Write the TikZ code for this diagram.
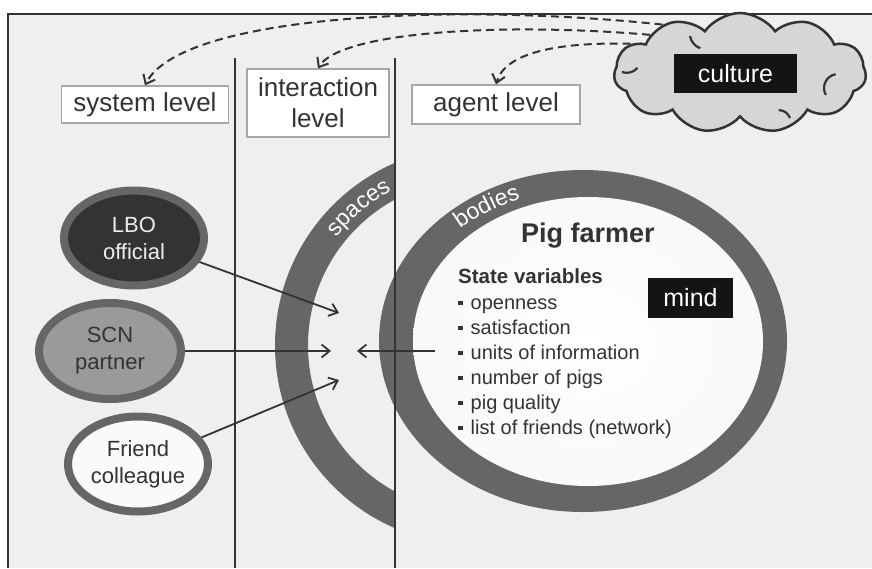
\documentclass[tikz,border=0pt]{standalone}
\usepackage{fontspec}
\setmainfont{Liberation Sans}
\usetikzlibrary{arrows.meta,shapes.geometric,shapes.symbols,decorations.text}
\definecolor{mybg}{RGB}{239,239,239}
\definecolor{myring}{RGB}{102,102,102}
\definecolor{mydark}{RGB}{51,51,51}
\definecolor{mymid}{RGB}{154,154,154}
\definecolor{mycloud}{RGB}{214,214,214}
\pgfdeclareradialshading{farmerglow}{\pgfpoint{0bp}{0bp}}{%
  color(0bp)=(white); color(30bp)=(white!97!black); color(50bp)=(white!90!black)}
\tikzset{
  >={Straight Barb[length=8pt,width=13pt]},
  level/.style={draw=gray!70,line width=1.2,fill=white,inner sep=0,text=mydark,
    font=\fontsize{26}{31}\selectfont,align=center},
  actor/.style={ellipse,draw=myring,line width=8,inner sep=0,minimum width=140,
    minimum height=95,align=center,font=\fontsize{22}{27}\selectfont},
  tag/.style={fill=black!92,text=white,inner sep=0,font=\fontsize{25}{30}\selectfont},
  ringtext/.style={decorate,decoration={text along path,text align=center,text color=white,
    text={|\fontsize{23}{28}\selectfont|#1}}},
  varitem/.style={anchor=base west,inner sep=0,text=mydark,font=\fontsize{20}{25}\selectfont},
  connect/.style={->,line width=1.8,draw=mydark},
  influence/.style={->,line width=2,draw=mydark,dash pattern=on 8pt off 5pt},
  curl/.style={draw=mydark,line width=2.2},
}
\newcommand{\sqbullet}{\rule[4pt]{4.5pt}{4.5pt}\hspace{8pt}}

\begin{document}
\begin{tikzpicture}[x=1pt,y=-1pt]
\useasboundingbox (0,0) rectangle (872,568);
\clip (0,0) rectangle (872,568);
\fill[white] (0,0) rectangle (872,568);
\fill[mybg] (8,14) rectangle (872,568);
\draw[mydark,line width=2] (872,14) -- (8,14) -- (8,568);

% spaces ring, cut off at the agent line
\begin{scope}
  \clip (0,0) rectangle (395,568);
  \fill[myring,even odd rule] (474,345.5) circle[radius=199] (474,345.5) circle[radius=166];
\end{scope}
% bodies ring round the farmer
\fill[myring] (583,341) ellipse[x radius=204,y radius=171];
\shade[shading=farmerglow] (588,341.5) ellipse[x radius=175,y radius=144.5];

% ring labels, set along the middle of each band
\path[ringtext=spaces] (309.6,285.6) arc[start angle=160,end angle=100,radius=175pt];
\path[ringtext=bodies] (421.4,270.1) arc[start angle=152,end angle=92,x radius=183pt,y radius=151pt];

% level separators
\draw[mydark,line width=2] (235,58) -- (235,568);
\draw[mydark,line width=2] (395,58) -- (395,568);

\node[level,minimum width=167,minimum height=37] (syslvl) at (145,104.5) {system level};
\node[level,minimum width=142,minimum height=68] (intlvl) at (318,103) {interaction\\level};
\node[level,minimum width=168,minimum height=39] (agentlvl) at (496,104.5) {agent level};

\node[cloud,cloud puffs=11,cloud puff arc=110,aspect=2.2,draw=mydark,line width=2.5,
  fill=mycloud,minimum width=252,minimum height=120,inner sep=0] (cloud) at (740,73) {};
% small inner folds of the cloud
\draw[curl] (622,72) arc[start angle=250,end angle=320,radius=14pt];
\draw[curl] (835.6,74.2) arc[start angle=100,end angle=210,radius=14pt];
\draw[curl] (690,36) arc[start angle=190,end angle=250,radius=16pt];
\draw[curl] (790,118) arc[start angle=20,end angle=90,radius=12pt];
\node[tag,minimum width=123,minimum height=39] (culture) at (735.5,73.5) {culture};

\draw[influence] (cloud.148) .. controls (450,2) and (180,15) .. (syslvl.north);
\draw[influence] (cloud.157) .. controls (500,22) and (340,32) .. (intlvl.north);
\draw[influence] (cloud.165) .. controls (560,42) and (505,52) .. (agentlvl.north);

% other agents
\node[actor,fill=mydark,text=white!93!black] (lbo) at (134,238) {LBO\\official};
\node[actor,fill=mymid,text=mydark,minimum width=142,minimum height=96] (scn) at (110,351) {SCN\\partner};
\node[actor,fill=white!98!black,text=mydark] (friend) at (138,464) {Friend\\colleague};

\coordinate (meetA) at (339,313);
\coordinate (meetB) at (331,351);
\coordinate (meetC) at (339,380);
\coordinate (meetD) at (357,351);
\coordinate (farmerout) at (435,351);

\draw[connect] (lbo) -- (meetA);
\draw[connect] (scn) -- (meetB);
\draw[connect] (friend) -- (meetC);
\draw[connect] (farmerout) -- (meetD);

% the farmer and his state
\node[anchor=base,inner sep=0,text=mydark,font=\bfseries\fontsize{27}{32}\selectfont] (farmer) at (588,242) {Pig farmer};
\node[anchor=base west,inner sep=0,text=mydark,font=\bfseries\fontsize{20.5}{25}\selectfont] (statevars) at (458,283) {State variables};
\foreach \varname [count=\i from 0] in {openness,satisfaction,units of information,number of pigs,pig quality,{list of friends (network)}}
  \node[varitem] (var\i) at (458,309+25*\i) {\sqbullet\varname};
\node[tag,minimum width=85,minimum height=40] (mind) at (690.5,298) {mind};
\end{tikzpicture}
\end{document}
